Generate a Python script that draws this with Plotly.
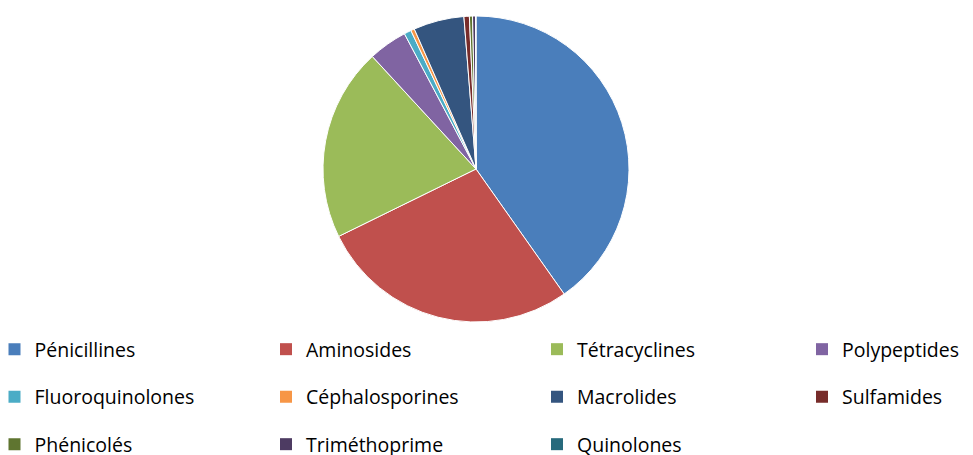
import plotly.graph_objects as go

# share of each antibiotic family (%)
familles = [
    "Pénicillines", "Aminosides", "Tétracyclines", "Polypeptides",
    "Fluoroquinolones", "Céphalosporines", "Macrolides", "Sulfamides",
    "Phénicolés", "Triméthoprime", "Quinolones",
]
parts = [40.2, 27.5, 20.4, 4.1, 0.75, 0.39, 5.34, 0.57, 0.33, 0.31, 0.05]
couleurs = [
    "#4a7ebb", "#c0504d", "#9bbb59", "#8064a2", "#4bacc6", "#f79646",
    "#34557f", "#772c2a", "#5f7530", "#4d3b62", "#276a7c",
]

# the page body adds an 8px margin, so the figure fills the rest of the window
OFF = 8
W, H = 973 - OFF, 455 - OFF

cx0, cy0, r = 476 - OFF, 169 - OFF, 153

fig = go.Figure()
fig.add_trace(
    go.Pie(
        labels=familles,
        values=parts,
        sort=False,
        direction="clockwise",
        rotation=0,
        textinfo="none",
        marker=dict(colors=couleurs, line=dict(color="white", width=1)),
        showlegend=False,
        domain=dict(
            x=[(cx0 - r) / W, (cx0 + r) / W],
            y=[(H - cy0 - r) / H, (H - cy0 + r) / H],
        ),
    )
)

# legend laid out as a 4 x 3 grid, one small legend per entry
col_x = [18.5, 290, 561, 826]
row_y = [349.5, 397, 444.5]
legendes = {}
for i, (nom, c) in enumerate(zip(familles, couleurs)):
    key = "legend" if i == 0 else f"legend{i + 1}"
    lx = col_x[i % 4] - OFF - 24
    ly = row_y[i // 4] - OFF
    legendes[key] = dict(
        x=lx / W, y=1 - ly / H,
        xref="paper", yref="paper",
        xanchor="left", yanchor="middle",
        bgcolor="rgba(0,0,0,0)",
        font=dict(family="Open Sans", size=19.5, color="#000"),
    )
    fig.add_trace(
        go.Scatter(
            x=[None], y=[None], mode="markers", name=nom,
            marker=dict(symbol="square", size=12, color=c),
            legend=key, showlegend=True, hoverinfo="skip",
        )
    )

fig.update_layout(
    width=W, height=H,
    margin=dict(l=0, r=0, t=0, b=0, autoexpand=False),
    paper_bgcolor="white",
    plot_bgcolor="white",
    xaxis=dict(visible=False),
    yaxis=dict(visible=False),
    **legendes,
)

fig.write_html("out.html")
